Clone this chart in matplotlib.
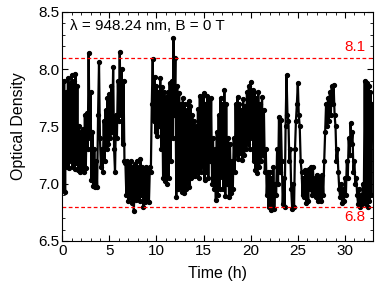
import numpy as np
import matplotlib
matplotlib.use("Agg")
import matplotlib.pyplot as plt
from matplotlib.ticker import MultipleLocator, FormatStrFormatter

plt.rcParams['font.family'] = ['Liberation Sans', 'DejaVu Sans']

# optical density, sampled every 0.1 h starting at t = 0
dt = 0.1
od = [
    7.60, 6.95, 7.90, 6.93, 7.80, 7.15, 7.92, 7.14, 7.88, 7.20,
    7.95, 7.15, 7.90, 7.13, 7.96, 7.18, 7.85, 7.12, 7.50, 7.10,
    7.45, 7.12, 7.48, 7.10, 7.60, 7.14, 7.62, 7.30, 8.14, 7.40,
    7.80, 7.03, 7.45, 6.98, 7.30, 6.97, 7.20, 6.97, 7.60, 8.06,
    7.40, 7.15, 7.30, 7.10, 7.55, 7.20, 7.64, 7.30, 7.75, 7.35,
    7.78, 7.40, 7.85, 7.45, 8.02, 7.30, 7.10, 7.60, 7.40, 7.90,
    7.55, 8.15, 7.60, 8.00, 7.35, 7.90, 7.20, 7.18, 6.90, 7.20,
    6.85, 7.18, 6.88, 7.20, 6.83, 7.15, 6.76, 7.17, 6.86, 7.20,
    6.88, 7.15, 6.85, 7.22, 6.90, 7.15, 6.80, 7.12, 6.84, 7.15,
    6.85, 7.13, 6.84, 7.15, 7.10, 7.70, 8.09, 7.55, 7.93, 7.45,
    7.85, 7.42, 7.80, 7.50, 7.92, 7.30, 7.84, 7.05, 7.80, 7.02,
    7.76, 7.00, 7.80, 7.05, 7.88, 7.20, 7.90, 7.40, 8.27, 7.60,
    8.10, 6.88, 7.85, 6.95, 7.79, 6.98, 7.70, 6.93, 7.75, 6.92,
    7.70, 6.95, 7.64, 7.00, 7.72, 6.97, 7.68, 7.05, 7.60, 7.07,
    7.55, 7.07, 7.50, 7.10, 7.65, 7.05, 7.77, 7.10, 7.76, 7.15,
    7.79, 7.03, 7.70, 7.10, 7.77, 7.05, 7.73, 7.20, 7.75, 7.00,
    7.40, 6.95, 7.30, 6.86, 7.45, 6.90, 7.60, 6.95, 7.75, 7.06,
    7.70, 6.95, 7.82, 6.89, 7.70, 7.00, 7.40, 6.88, 7.35, 6.92,
    7.20, 6.95, 7.40, 7.10, 7.70, 7.25, 7.76, 7.22, 7.70, 7.27,
    7.64, 7.21, 7.74, 7.25, 7.68, 7.30, 7.80, 7.35, 7.85, 7.30,
    7.89, 7.40, 7.82, 7.20, 7.80, 7.12, 7.75, 7.09, 7.80, 7.15,
    7.70, 7.20, 7.76, 7.25, 7.64, 7.10, 7.30, 6.90, 7.10, 6.80,
    7.10, 6.77, 7.05, 6.80, 7.15, 6.78, 7.00, 6.90, 7.30, 7.00,
    7.58, 7.10, 7.56, 7.20, 6.82, 7.05, 6.80, 7.50, 7.95, 7.60,
    7.55, 7.20, 7.30, 6.95, 6.78, 7.00, 6.80, 7.30, 7.55, 7.70,
    7.88, 7.60, 7.50, 7.20, 7.10, 6.90, 7.05, 6.88, 7.12, 6.83,
    7.10, 6.85, 7.13, 6.95, 7.15, 6.90, 7.15, 6.92, 7.05, 6.88,
    7.08, 6.85, 7.05, 6.87, 7.06, 6.85, 7.08, 6.90, 7.20, 7.45,
    7.70, 7.50, 7.75, 7.55, 7.80, 7.60, 7.85, 7.70, 7.86, 7.60,
    7.50, 7.20, 7.30, 7.10, 6.95, 6.88, 7.00, 6.83, 6.95, 6.85,
    7.05, 6.90, 7.20, 7.05, 7.40, 7.25, 7.53, 7.35, 7.45, 7.10,
    7.20, 7.00, 7.05, 6.90, 6.82, 6.95, 6.80, 6.90, 6.82, 7.00,
    6.85, 7.90, 6.82, 7.88, 6.80, 7.85, 6.85, 7.80, 6.90, 7.70,
]
time_h = np.arange(len(od)) * dt

upper_level = 8.1
lower_level = 6.8
label = "λ = 948.24 nm, B = 0 T"

fig = plt.figure(figsize=(3.82, 2.90), dpi=100)
ax = fig.add_axes([0.163, 0.169, 0.814, 0.790])

ax.plot(time_h, od, color='black', linewidth=1.6, marker='o', markersize=2.8)

ax.axhline(upper_level, color='red', linestyle=(0, (3, 2)), linewidth=0.9)
ax.axhline(lower_level, color='red', linestyle=(0, (3, 2)), linewidth=0.9)
ax.text(32.2, upper_level + 0.03, f"{upper_level}", color='red', fontsize=11,
        ha='right', va='bottom')
ax.text(32.2, lower_level - 0.03, f"{lower_level}", color='red', fontsize=11,
        ha='right', va='top')
ax.text(0.8, 8.38, label, fontsize=11, ha='left', va='center')

ax.set_xlim(0, 33)
ax.set_ylim(6.5, 8.5)
ax.xaxis.set_major_locator(MultipleLocator(5))
ax.xaxis.set_minor_locator(MultipleLocator(1))
ax.yaxis.set_major_locator(MultipleLocator(0.5))
ax.yaxis.set_minor_locator(MultipleLocator(0.1))
ax.yaxis.set_major_formatter(FormatStrFormatter('%.1f'))
ax.tick_params(which='both', direction='in', top=True, right=True, labelsize=11, pad=2)
ax.tick_params(which='major', length=4, width=0.8)
ax.tick_params(which='minor', length=2, width=0.6)

ax.set_xlabel("Time (h)", fontsize=11.5, labelpad=6)
ax.set_ylabel("Optical Density", fontsize=11.5, labelpad=9)

fig.savefig("out.png", dpi=100)
